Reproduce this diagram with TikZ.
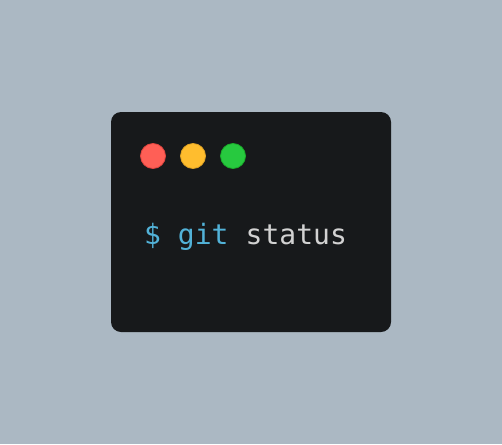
\documentclass[tikz,border=0pt]{standalone}
\usepackage{fontspec}
\setmonofont{DejaVu Sans Mono}
\usepackage{xcolor}
\usepackage{tikz}
\usetikzlibrary{backgrounds}
\definecolor{pagebg}{HTML}{ABB8C3}
\definecolor{termbg}{HTML}{17191B}
\definecolor{btnred}{HTML}{FF5F56}
\definecolor{btnredline}{HTML}{E0443E}
\definecolor{btnyellow}{HTML}{FFBD2E}
\definecolor{btnyellowline}{HTML}{DEA123}
\definecolor{btngreen}{HTML}{27C93F}
\definecolor{btngreenline}{HTML}{1AAB29}
\definecolor{promptblue}{HTML}{52B2D8}
\definecolor{cmdgray}{HTML}{D2D2D2}
\tikzset{termbox/.style={fill=termbg, rounded corners=10pt, inner sep=0pt, draw=none},
         btn/.style={circle, minimum size=25pt, inner sep=0pt, line width=0.8pt},
         cmdtext/.style={anchor=base west, inner sep=0pt, font=\ttfamily\fontsize{28}{28}\selectfont}}

\begin{document}
\begin{tikzpicture}[x=1pt, y=1pt]
    \fill[pagebg] (0, 0) rectangle (502, -444);
    \useasboundingbox (0, 0) rectangle (502, -444);
    \fill[termbox] (111, -112) rectangle (391, -332);
    \node[btn, fill=btnred, draw=btnredline] (red) at (153, -156) {};
    \node[btn, fill=btnyellow, draw=btnyellowline] (yellow) at (193, -156) {};
    \node[btn, fill=btngreen, draw=btngreenline] (green) at (233, -156) {};
    \node[cmdtext, text=promptblue] (prompt) at (144, -244) {\$ git};
    \node[cmdtext, text=cmdgray] (cmd) at (prompt.base east) {\ status};
\end{tikzpicture}
\end{document}
